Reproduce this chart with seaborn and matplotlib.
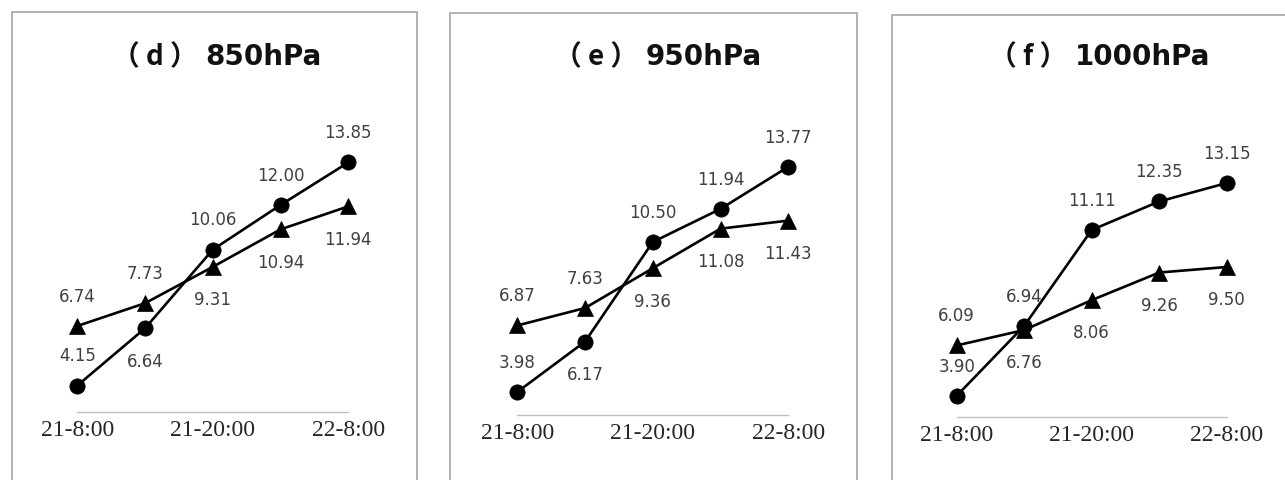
import numpy as np
import pandas as pd
import seaborn as sns
import matplotlib.pyplot as plt
from matplotlib.patches import Rectangle

# data
positions = [0, 1, 2, 3, 4]
tick_pos = [0, 2, 4]
tick_labels = ['21-8:00', '21-20:00', '22-8:00']

title_tags = ['（ d ）', '（ e ）', '（ f ）']
title_levels = ['850hPa', '950hPa', '1000hPa']

circle_850 = [4.15, 6.64, 10.06, 12.00, 13.85]
triangle_850 = [6.74, 7.73, 9.31, 10.94, 11.94]
circle_950 = [3.98, 6.17, 10.50, 11.94, 13.77]
triangle_950 = [6.87, 7.63, 9.36, 11.08, 11.43]
circle_1000 = [3.90, 6.94, 11.11, 12.35, 13.15]
triangle_1000 = [6.09, 6.76, 8.06, 9.26, 9.50]

# label placement: a = above marker, b = below marker
circle_side = [['a', 'b', 'a', 'a', 'a'],
               ['a', 'b', 'a', 'a', 'a'],
               ['a', 'a', 'a', 'a', 'a']]
triangle_side = [['a', 'a', 'b', 'b', 'b'],
                 ['a', 'a', 'b', 'b', 'b'],
                 ['a', 'b', 'b', 'b', 'b']]

series = [(circle_850, triangle_850), (circle_950, triangle_950), (circle_1000, triangle_1000)]

W, H = 1285, 480
sns.set_theme(style='white')
plt.rcParams['font.family'] = ['DejaVu Sans', 'Noto Sans CJK SC']

fig = plt.figure(figsize=(W / 100, H / 100), dpi=100)
renderer = fig.canvas.get_renderer()

# (axes left px, axes bottom px, width px), panel box (left, right, top)
axes_px = [(77.3, 412, 271), (517.3, 414.5, 271), (956.7, 416.5, 270)]
box_px = [(12, 417, 12), (450, 857, 13), (892, 1300, 15)]
ax_h = 299

for i in range(3):
    bl, br, bt = box_px[i]
    fig.patches.append(Rectangle((bl / W, -0.05), (br - bl) / W, (H - bt) / H + 0.05,
                                 transform=fig.transFigure, fill=False,
                                 edgecolor='#a6a6a6', linewidth=1.2))

    x0, y0, w = axes_px[i]
    ax = fig.add_axes([x0 / W, (H - y0) / H, w / W, ax_h / H])
    circ, tri = series[i]
    df = pd.DataFrame({'pos': positions * 2,
                       'val': circ + tri,
                       'kind': ['circle'] * 5 + ['triangle'] * 5})
    sns.lineplot(data=df, x='pos', y='val', style='kind',
                 markers={'circle': 'o', 'triangle': '^'}, dashes=False,
                 color='black', linewidth=1.9, markersize=11,
                 markeredgecolor='black', markeredgewidth=0.5,
                 legend=False, ax=ax, clip_on=False)

    for vals, sides in [(circ, circle_side[i]), (tri, triangle_side[i])]:
        for x, v, s in zip(positions, vals, sides):
            dy = 21 if s == 'a' else -24
            ax.annotate(f'{v:.2f}', (x, v), xytext=(0, dy), textcoords='offset points',
                        ha='center', va='center', fontsize=12, color='#404040',
                        family='DejaVu Sans')

    ax.set_xlim(0, 4)
    ax.set_ylim(3, 16)
    ax.set_xticks(tick_pos)
    ax.set_xticklabels(tick_labels, family='Liberation Serif', fontsize=17, color='#262626')
    ax.set_yticks([])
    ax.set_xlabel('')
    ax.set_ylabel('')
    ax.tick_params(axis='x', length=0, pad=6)
    for side in ['top', 'left', 'right']:
        ax.spines[side].set_visible(False)
    ax.spines['bottom'].set_color('#bfbfbf')
    ax.spines['bottom'].set_linewidth(1)
    ax.set_facecolor('none')

    # title: CJK full-width brackets + bold level text
    center = x0 + w / 2 + 10
    ty = 1 - 57 / H
    t2 = fig.text(0, ty, title_levels[i], ha='left', va='center',
                  fontsize=20, fontweight='bold', color='#111111', family='DejaVu Sans')
    w2 = t2.get_window_extent(renderer).width
    num_start = center + 41 - w2 / 2
    t2.set_x(num_start / W)
    fig.text((num_start - 8) / W, ty, title_tags[i], ha='right', va='center',
             fontsize=20, fontweight='bold', color='#111111', family='Noto Sans CJK SC')

fig.savefig('out.png', dpi=100)
